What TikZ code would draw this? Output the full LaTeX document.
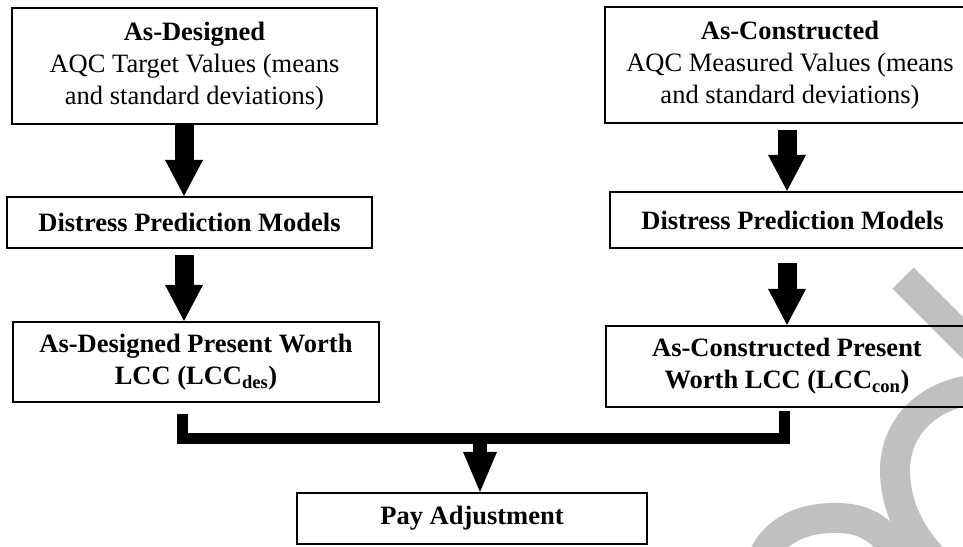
\documentclass[tikz,border=0pt]{standalone}
\usepackage{fontspec}
\setmainfont{Liberation Serif}
\usetikzlibrary{arrows.meta,calc}
\definecolor{wmgray}{RGB}{192,192,192}
\begin{document}
\begin{tikzpicture}[x=1pt,y=-1pt,
  box/.style={draw, line width=2.2pt, inner sep=0pt, align=center,
    font=\fontsize{26.5}{32}\selectfont},
  fat/.style={line width=19pt, -{Triangle[width=38pt,length=36pt,line width=0pt]}},
  slim/.style={line width=14pt, -{Triangle[width=34pt,length=40pt,line width=0pt]}},
  bar/.style={line width=11pt, line join=miter},
  wm/.style={draw=wmgray, line width=30pt}]
\useasboundingbox (0,0) rectangle (963,546);
\clip (0,0) rectangle (963,546);
% watermark
\draw[wm] (903,278) -- (985,360);
\draw[wm] (990,388) .. controls (925,390) and (895,430) .. (895,470)
  .. controls (895,510) and (915,545) .. (950,575);
\draw[wm] (762,560) .. controls (775,528) and (805,517) .. (840,518)
  .. controls (870,519) and (890,535) .. (902,565);
% boxes
\node[box, minimum width=365pt, minimum height=116pt] (a1) at (194.5,66)
  {\textbf{As-Designed}\\AQC Target Values (means\\and standard deviations)};
\node[box, minimum width=365pt, minimum height=51pt] (a2) at (189.5,222.5)
  {\textbf{Distress Prediction Models}};
\node[box, minimum width=366pt, minimum height=80pt] (a3) at (196,362)
  {\textbf{As-Designed Present Worth}\\\textbf{LCC (LCC\textsubscript{des})}};
\node[box, minimum width=370pt, minimum height=116pt] (b1) at (790,65)
  {\textbf{As-Constructed}\\AQC Measured Values (means\\and standard deviations)};
\node[box, minimum width=365pt, minimum height=56pt] (b2) at (792.5,220)
  {\textbf{Distress Prediction Models}};
\node[box, minimum width=362pt, minimum height=81pt] (b3) at (787,366.5)
  {\textbf{As-Constructed Present}\\\textbf{Worth LCC (LCC\textsubscript{con})}};
\node[box, minimum width=350pt, minimum height=51pt] (pay) at (472,518.5)
  {\textbf{Pay Adjustment}};
% connectors
\coordinate (ca) at (184,0);
\coordinate (cb) at (787,0);
\coordinate (cp) at (480,0);
\coordinate (bl) at (182.5,438);
\coordinate (br) at (784.5,438);
\draw[fat] (a1.south -| ca) -- (a2.north -| ca);
\draw[fat] ($(a2.south -| ca)+(0,6)$) -- (a3.north -| ca);
\draw[fat] ($(b1.south -| cb)+(0,6)$) -- (b2.north -| cb);
\draw[fat] ($(b2.south -| cb)+(0,14)$) -- (b3.north -| cb);
\draw[bar] ($(a3.south -| bl)+(0,11)$) -- (bl) -- (br) -- ($(b3.south -| br)+(0,3)$);
\draw[slim] (bl -| cp) -- (pay.north -| cp);
\end{tikzpicture}
\end{document}
